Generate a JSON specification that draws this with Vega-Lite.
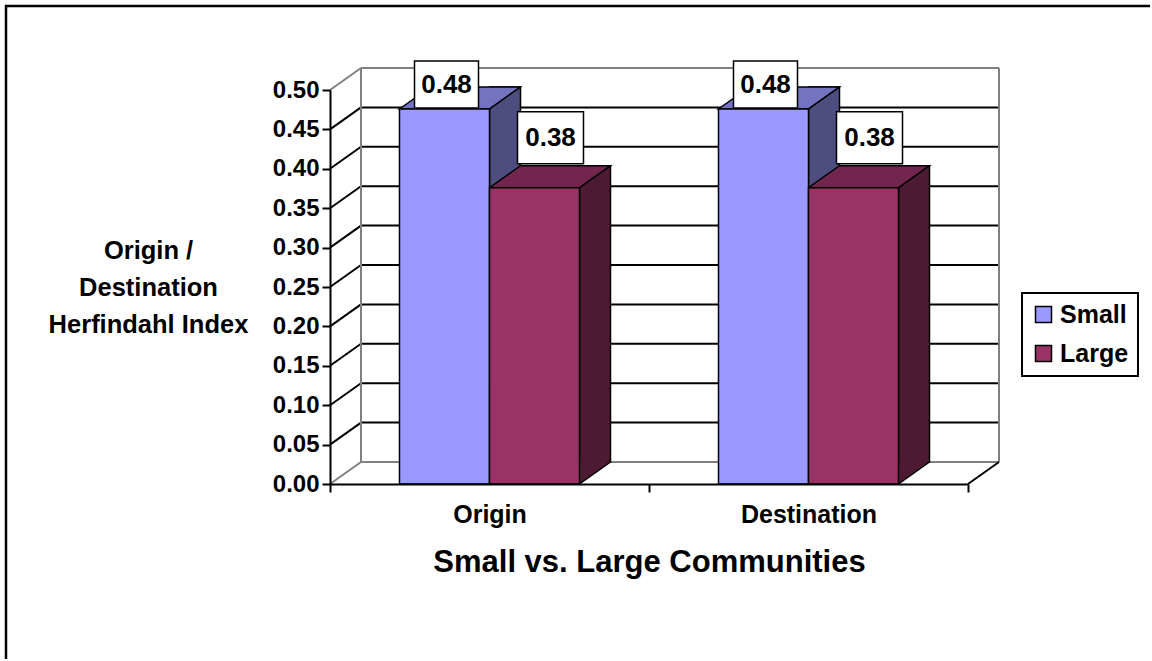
{
  "$schema": "https://vega.github.io/schema/vega-lite/v6.json",
  "width": 1146,
  "height": 655,
  "padding": {"left": 6, "top": 6, "right": -2, "bottom": -2},
  "autosize": "none",
  "background": "white",
  "config": {
    "font": "Liberation Sans",
    "view": {"stroke": "black", "strokeWidth": 2.5},
    "axis": {"labelFont": "Liberation Sans", "titleFont": "Liberation Sans"},
    "legend": {"strokeWidth": 2}
  },
  "datasets": {
    "bars": [
      {"category": "Origin", "series": "Small", "value": 0.476},
      {"category": "Origin", "series": "Large", "value": 0.376},
      {"category": "Destination", "series": "Small", "value": 0.476},
      {"category": "Destination", "series": "Large", "value": 0.376}
    ],
    "ticks": [
      {"v": 0}, {"v": 0.05}, {"v": 0.1}, {"v": 0.15}, {"v": 0.2}, {"v": 0.25},
      {"v": 0.3}, {"v": 0.35}, {"v": 0.4}, {"v": 0.45}, {"v": 0.5}
    ],
    "one": [{"k": 1}]
  },
  "layer": [
    {
      "data": {"name": "ticks"},
      "mark": {"type": "rule", "xOffset": 31, "x2Offset": 31, "yOffset": -22, "strokeWidth": 2},
      "encoding": {
        "x": {"datum": "Origin", "bandPosition": 0, "type": "nominal"},
        "x2": {"datum": "Destination", "bandPosition": 1},
        "y": {"field": "v", "type": "quantitative"},
        "stroke": {"condition": {"test": "datum.v < 0.001 || datum.v > 0.499", "value": "#808080"}, "value": "black"}
      }
    },
    {
      "data": {"name": "ticks"},
      "mark": {"type": "rule", "x2Offset": 31, "y2Offset": -22, "strokeWidth": 2},
      "encoding": {
        "x": {"datum": "Origin", "bandPosition": 0, "type": "nominal"},
        "x2": {"datum": "Origin", "bandPosition": 0},
        "y": {"field": "v", "type": "quantitative"},
        "y2": {"field": "v"},
        "stroke": {"condition": {"test": "datum.v < 0.001 || datum.v > 0.499", "value": "#808080"}, "value": "black"}
      }
    },
    {
      "data": {"name": "one"},
      "mark": {"type": "rule", "xOffset": 31, "yOffset": -22, "y2Offset": -22, "strokeWidth": 2, "color": "#808080"},
      "encoding": {
        "x": {"datum": "Origin", "bandPosition": 0, "type": "nominal"},
        "y": {"datum": 0, "type": "quantitative"},
        "y2": {"datum": 0.5}
      }
    },
    {
      "data": {"name": "one"},
      "mark": {"type": "rule", "xOffset": 31, "yOffset": -22, "y2Offset": -22, "strokeWidth": 2, "color": "#808080"},
      "encoding": {
        "x": {"datum": "Destination", "bandPosition": 1, "type": "nominal"},
        "y": {"datum": 0, "type": "quantitative"},
        "y2": {"datum": 0.5}
      }
    },
    {
      "data": {"name": "one"},
      "mark": {"type": "rule", "x2Offset": 31, "y2Offset": -22, "strokeWidth": 2, "color": "black"},
      "encoding": {
        "x": {"datum": "Destination", "bandPosition": 1, "type": "nominal"},
        "x2": {"datum": "Destination", "bandPosition": 1},
        "y": {"datum": 0, "type": "quantitative"},
        "y2": {"datum": 0}
      }
    },
    {
      "data": {"name": "bars"},
      "transform": [{"filter": "datum.series === 'Small'"}],
      "mark": {"type": "bar", "width": 31, "xOffset": 15.5, "yOffset": -22, "y2Offset": -22, "stroke": "black", "strokeWidth": 1.5, "fill": "#4D4D80"},
      "encoding": {
        "x": {"field": "category", "type": "nominal"},
        "y": {"field": "value", "type": "quantitative"}
      }
    },
    {
      "data": {"name": "bars"},
      "transform": [{"filter": "datum.series === 'Large'"}],
      "mark": {"type": "bar", "width": 31, "xOffset": 105.5, "yOffset": -22, "y2Offset": -22, "stroke": "black", "strokeWidth": 1.5, "fill": "#4D1A33"},
      "encoding": {
        "x": {"field": "category", "type": "nominal"},
        "y": {"field": "value", "type": "quantitative"}
      }
    },
    {
      "data": {"name": "bars"},
      "mark": {"type": "point", "filled": true, "opacity": 1, "size": 4, "shape": "M45,0 L45,-23.5 L75,-23.5 L76,-22 Z", "strokeWidth": 0},
      "encoding": {
        "x": {"field": "category", "type": "nominal"},
        "xOffset": {"field": "series", "type": "nominal"},
        "y": {"datum": 0, "type": "quantitative"},
        "fill": {"condition": {"test": "datum.series === 'Small'", "value": "#4D4D80"}, "value": "#4D1A33"}
      }
    },
    {
      "data": {"name": "bars"},
      "mark": {"type": "point", "filled": false, "opacity": 1, "size": 4, "shape": "M45,0 L76,-22", "stroke": "black", "strokeWidth": 1.5},
      "encoding": {
        "x": {"field": "category", "type": "nominal"},
        "xOffset": {"field": "series", "type": "nominal"},
        "y": {"datum": 0, "type": "quantitative"}
      }
    },
    {
      "data": {"name": "bars"},
      "mark": {"type": "point", "filled": true, "opacity": 1, "size": 4, "shape": "M-45,0 L45,0 L76,-22 L-14,-22 Z", "stroke": "black", "strokeWidth": 1.5},
      "encoding": {
        "x": {"field": "category", "type": "nominal"},
        "xOffset": {"field": "series", "type": "nominal"},
        "y": {"field": "value", "type": "quantitative"},
        "fill": {"condition": {"test": "datum.series === 'Small'", "value": "#7373BF"}, "value": "#73264D"}
      }
    },
    {
      "data": {"name": "bars"},
      "mark": {"type": "bar", "stroke": "black", "strokeWidth": 1.5},
      "encoding": {
        "x": {
          "field": "category", "type": "nominal",
          "scale": {"domain": ["Origin", "Destination"], "range": [324, 962], "paddingInner": 0, "paddingOuter": 0},
          "axis": {
            "orient": "bottom", "offset": -177, "zindex": 1, "tickBand": "extent",
            "labelAngle": 0, "labelAlign": "center", "labelFontSize": 25, "labelFontWeight": "bold", "labelColor": "black", "labelPadding": 22,
            "tickSize": 8, "tickWidth": 2, "tickColor": "black", "domainColor": "black", "domainWidth": 2,
            "title": "Small vs. Large Communities", "titleFontSize": 31, "titleFontWeight": "bold", "titleColor": "black", "titlePadding": 20
          }
        },
        "xOffset": {"field": "series", "type": "nominal", "scale": {"domain": ["Small", "Large"], "paddingInner": 0, "paddingOuter": 0.7722}},
        "y": {
          "field": "value", "type": "quantitative",
          "scale": {"domain": [0, 0.5], "range": [478, 84], "nice": false, "zero": true},
          "axis": {
            "orient": "left", "offset": -324, "zindex": 1, "values": [0, 0.05, 0.1, 0.15, 0.2, 0.25, 0.3, 0.35, 0.4, 0.45, 0.5],
            "format": ".2f", "grid": false,
            "labelFontSize": 24, "labelFontWeight": "bold", "labelColor": "black", "labelPadding": 3,
            "tickSize": 8, "tickWidth": 2, "tickColor": "black", "domainColor": "black", "domainWidth": 2,
            "title": ["Origin /", "Destination", "Herfindahl Index"], "titleAngle": 0, "titleAlign": "center",
            "titleBaseline": "alphabetic", "titleX": -182, "titleY": 252, "titleLineHeight": 37,
            "titleFontSize": 25.5, "titleFontWeight": "bold", "titleColor": "black"
          }
        },
        "color": {
          "field": "series", "type": "nominal",
          "scale": {"domain": ["Small", "Large"], "range": ["#9999FF", "#993366"]},
          "legend": {
            "title": null, "orient": "none", "legendX": 1016, "legendY": 287,
            "padding": 9, "strokeColor": "black", "fillColor": "white",
            "symbolType": "square", "symbolSize": 256, "symbolStrokeColor": "black", "symbolStrokeWidth": 1.5,
            "labelFontSize": 25, "labelFontWeight": "bold", "labelColor": "black", "labelFont": "Liberation Sans",
            "rowPadding": 13, "labelOffset": 4
          }
        }
      }
    },
    {
      "data": {"name": "bars"},
      "transform": [{"filter": "datum.series === 'Small'"}],
      "mark": {"type": "point", "filled": true, "opacity": 1, "size": 4, "shape": "M-30,-48 L34,-48 L34,-1 L-30,-1 Z", "fill": "white", "stroke": "black", "strokeWidth": 1.5},
      "encoding": {
        "x": {"field": "category", "type": "nominal"},
        "xOffset": {"field": "series", "type": "nominal"},
        "y": {"field": "value", "type": "quantitative"}
      }
    },
    {
      "data": {"name": "bars"},
      "transform": [{"filter": "datum.series === 'Large'"}],
      "mark": {"type": "point", "filled": true, "opacity": 1, "size": 4, "shape": "M-17,-76 L49,-76 L49,-24 L-17,-24 Z", "fill": "white", "stroke": "black", "strokeWidth": 1.5},
      "encoding": {
        "x": {"field": "category", "type": "nominal"},
        "xOffset": {"field": "series", "type": "nominal"},
        "y": {"field": "value", "type": "quantitative"}
      }
    },
    {
      "data": {"name": "bars"},
      "transform": [{"filter": "datum.series === 'Small'"}],
      "mark": {"type": "text", "fontSize": 26, "fontWeight": "bold", "color": "black", "dx": 2, "dy": -24, "baseline": "middle", "align": "center"},
      "encoding": {
        "x": {"field": "category", "type": "nominal"},
        "xOffset": {"field": "series", "type": "nominal"},
        "y": {"field": "value", "type": "quantitative"},
        "text": {"field": "value", "type": "quantitative", "format": ".2f"}
      }
    },
    {
      "data": {"name": "bars"},
      "transform": [{"filter": "datum.series === 'Large'"}],
      "mark": {"type": "text", "fontSize": 26, "fontWeight": "bold", "color": "black", "dx": 16, "dy": -50, "baseline": "middle", "align": "center"},
      "encoding": {
        "x": {"field": "category", "type": "nominal"},
        "xOffset": {"field": "series", "type": "nominal"},
        "y": {"field": "value", "type": "quantitative"},
        "text": {"field": "value", "type": "quantitative", "format": ".2f"}
      }
    }
  ]
}
